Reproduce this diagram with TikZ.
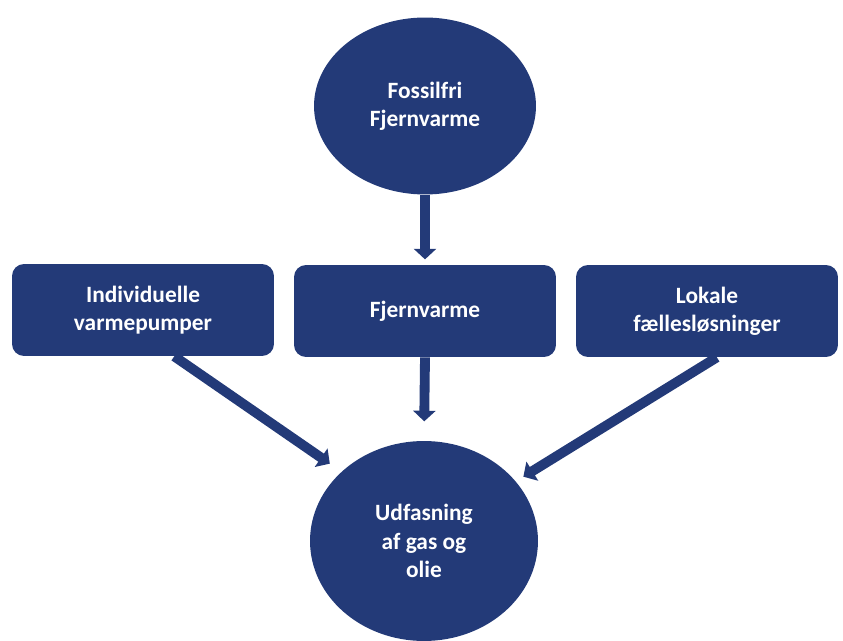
\documentclass[tikz,border=0pt]{standalone}
\usepackage{fontspec}
\setmainfont{Carlito}
\usetikzlibrary{shapes.geometric,arrows.meta}
\definecolor{navy}{RGB}{35,58,120}
\begin{document}
\begin{tikzpicture}[x=0.02cm, y=-0.02cm,
  font=\fontsize{13.3}{16}\selectfont\bfseries,
  blob/.style={ellipse, fill=navy, text=white, inner sep=0pt, align=center},
  box/.style={rectangle, rounded corners=0.24cm, fill=navy, text=white,
    minimum width=5.24cm, minimum height=1.84cm, align=center},
  flow/.style={draw=navy, line width=5.6pt, -{Triangle[width=12.5pt, length=6pt]}}]
  \useasboundingbox (0,0) rectangle (843,641);
  % circles
  \node[blob, minimum width=4.44cm, minimum height=3.54cm] (fossil) at (425,106) {Fossilfri\\Fjernvarme};
  \node[blob, minimum width=4.56cm, minimum height=4.0cm] (udfas) at (424,541) {Udfasning\\af gas og\\olie};
  % boxes
  \node[box] (indiv) at (143,310) {Individuelle\\varmepumper};
  \node[box] (fjern) at (425,311) {Fjernvarme};
  \node[box] (lokal) at (707,311) {Lokale\\fællesløsninger};
  % arrows
  \draw[flow, shorten >=3pt] (fossil.south) -- (fjern.north);
  \draw[flow, shorten >=11pt] (fjern.south) -- (udfas.north);
  \draw[flow, shorten >=8pt] (indiv.-56) -- (udfas.140);
  \draw[flow, shorten >=5pt] (lokal.-78) -- (udfas.33);
\end{tikzpicture}
\end{document}
